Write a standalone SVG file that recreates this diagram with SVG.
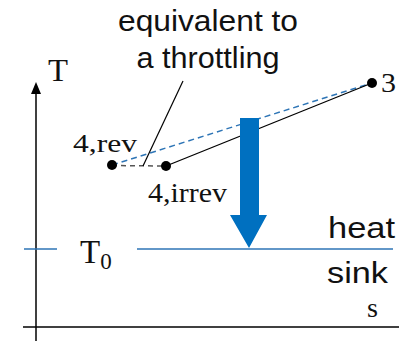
<svg xmlns="http://www.w3.org/2000/svg" width="399" height="341" viewBox="0 0 399 341">
<defs>
<style>
.serif{font-family:"Liberation Serif","Times New Roman",serif;fill:#111}
.sans{font-family:"Liberation Sans",Arial,sans-serif;fill:#111}
.dot{fill:#000}
</style>
</defs>
<rect width="399" height="341" fill="#fff"/>
<g id="axes">
<line x1="36" y1="90" x2="36" y2="341" stroke="#000" stroke-width="1.5"/>
<polygon points="36,82 31,94 41,94" fill="#000"/>
<line x1="23" y1="327" x2="399" y2="327" stroke="#000" stroke-width="1.5"/>
<text class="serif" x="48" y="81" font-size="32" textLength="20" lengthAdjust="spacingAndGlyphs">T</text>
<text class="serif" x="367" y="317" font-size="27" textLength="11" lengthAdjust="spacingAndGlyphs">s</text>
</g>
<g id="sink">
<line x1="24" y1="249" x2="57" y2="249" stroke="#2E75B6" stroke-width="1.5"/>
<line x1="137" y1="249" x2="393" y2="249" stroke="#2E75B6" stroke-width="1.5"/>
<text class="serif" x="80" y="263" font-size="33">T<tspan font-size="23" dy="6">0</tspan></text>
<text class="sans" x="328" y="238" font-size="30" textLength="67" lengthAdjust="spacingAndGlyphs">heat</text>
<text class="sans" x="327" y="283" font-size="30" textLength="61" lengthAdjust="spacingAndGlyphs">sink</text>
</g>
<g id="connectors">
<line x1="112" y1="165" x2="372" y2="83" stroke="#2E75B6" stroke-width="1.5" stroke-dasharray="6,4"/>
<line x1="166" y1="166" x2="372" y2="83" stroke="#000" stroke-width="1.3"/>
<line x1="112" y1="165.5" x2="166" y2="166" stroke="#555" stroke-width="1.5" stroke-dasharray="5,4"/>
<line x1="183" y1="81" x2="143" y2="166" stroke="#000" stroke-width="1.2"/>
</g>
<g id="arrow">
<polygon points="240,118 259,118 259,215 267,215 249,248 230,215 240,215" fill="#0070C0"/>
</g>
<g id="p4rev">
<circle class="dot" cx="112" cy="165" r="5"/>
<text class="serif" x="73" y="152" font-size="26" textLength="64" lengthAdjust="spacingAndGlyphs">4,rev</text>
</g>
<g id="p4irrev">
<circle class="dot" cx="166" cy="166" r="5"/>
<text class="serif" x="148" y="202" font-size="27" textLength="79" lengthAdjust="spacingAndGlyphs">4,irrev</text>
</g>
<g id="p3">
<circle class="dot" cx="372" cy="83" r="5"/>
<text class="serif" x="381" y="92" font-size="27" textLength="15" lengthAdjust="spacingAndGlyphs">3</text>
</g>
<g id="label">
<text class="sans" x="208" y="31" font-size="29" text-anchor="middle" textLength="180" lengthAdjust="spacingAndGlyphs">equivalent to</text>
<text class="sans" x="208" y="68" font-size="29" text-anchor="middle" textLength="143" lengthAdjust="spacingAndGlyphs">a throttling</text>
</g>
</svg>
